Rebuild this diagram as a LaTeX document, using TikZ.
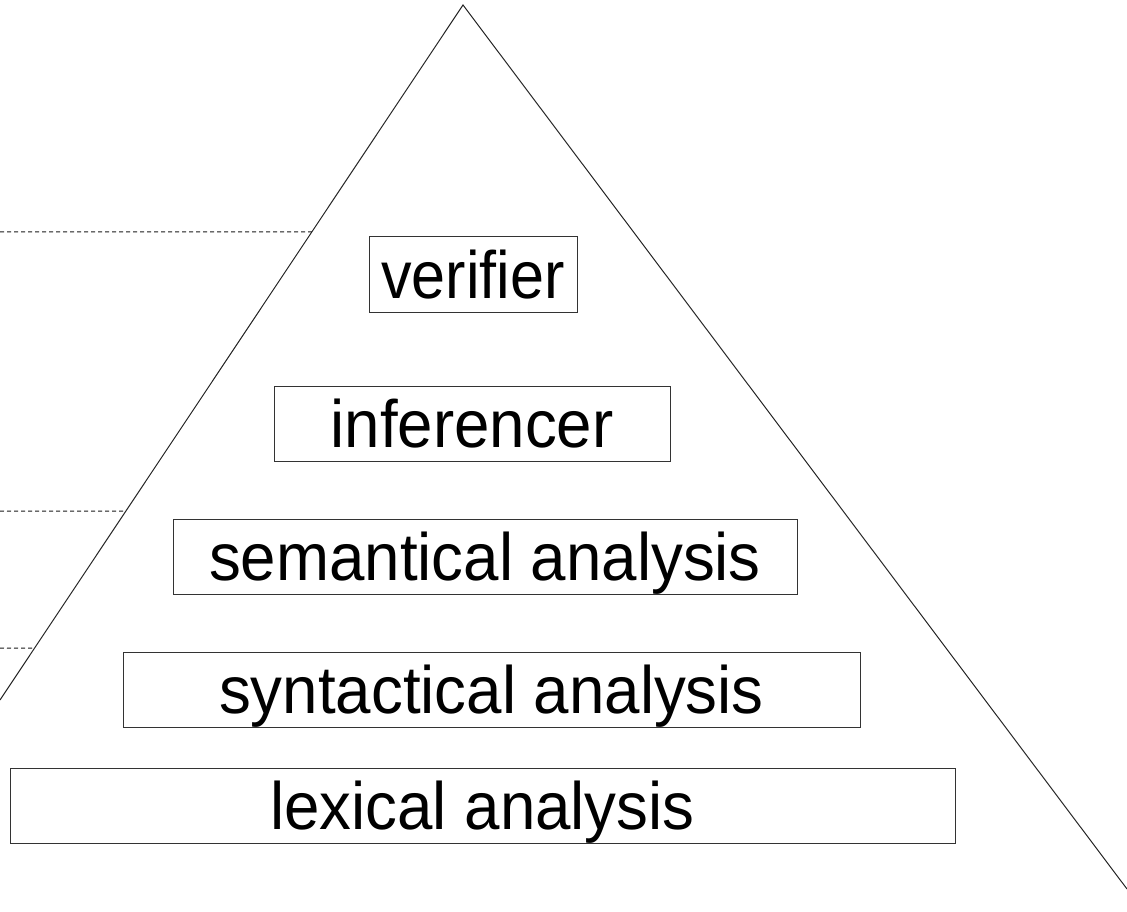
\documentclass[tikz,border=0pt]{standalone}
\usepackage{fontspec}
\setmainfont{Liberation Sans}[FakeStretch=0.95]
\usetikzlibrary{calc}

\begin{document}
\begin{tikzpicture}[
  x=1pt, y=-1pt,
  layernode/.style={rectangle, draw=black!80, line width=1pt, inner sep=0pt,
    text height=61pt, text depth=14pt, font=\fontsize{67}{67}\selectfont},
  sideline/.style={draw=black!85, line width=1pt},
  levelline/.style={draw=black!90, line width=1pt, dash pattern=on 4pt off 3pt},
]
\useasboundingbox (0,0) rectangle (1127,912);

% pyramid
\coordinate (top) at (463,5);
\coordinate (leftend) at (0,700);
\coordinate (rightend) at (1127,889);
\draw[sideline] (leftend) -- (top) -- (rightend);

% levels
\node[layernode, minimum width=208pt] (verifier) at (473,274.5) {\scalebox{0.96}[1]{verifier}};
\node[layernode, minimum width=396pt] (inferencer) at (472,424) {inferencer};
\node[layernode, minimum width=624pt] (semantic) at (485,556.5) {semantical analysis};
\node[layernode, minimum width=737pt] (syntax) at (491.5,689.5) {syntactical analysis};
\node[layernode, minimum width=945pt] (lexical) at (482.5,805.5) {lexical analysis};

% dashed level marks
\coordinate (m1) at ($(top)!0.3266!(leftend)$);
\coordinate (m2) at ($(top)!0.7281!(leftend)$);
\coordinate (m3) at ($(top)!0.9252!(leftend)$);
\coordinate (e1) at (0,232);
\coordinate (e2) at (0,511);
\coordinate (e3) at (0,648);
\draw[levelline] (e1) -- (m1);
\draw[levelline] (e2) -- (m2);
\draw[levelline] (e3) -- (m3);

\end{tikzpicture}
\end{document}
